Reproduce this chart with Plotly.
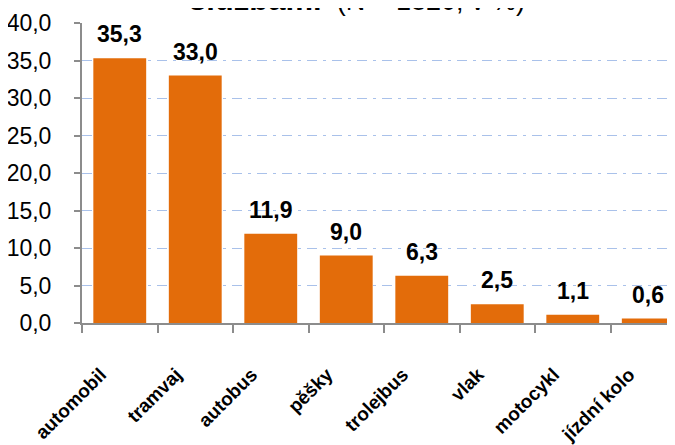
import plotly.graph_objects as go

categories = ["automobil", "tramvaj", "autobus", "pěšky", "trolejbus", "vlak", "motocykl", "jízdní kolo"]
values = [35.3, 33.0, 11.9, 9.0, 6.3, 2.5, 1.1, 0.6]
y_ticks = [0, 5, 10, 15, 20, 25, 30, 35, 40]
title_bold = "službami"
title_rest = "(N = 1820; v %)"

FONT = "Liberation Sans, Arial, sans-serif"
BAR = "#e36c0a"
AXIS = "#8c8c8c"
GRID = "#a9c1ea"

fig = go.Figure()
fig.add_trace(go.Bar(x=categories, y=values, marker=dict(color=BAR, line=dict(width=0)),
                     hoverinfo="skip"))

for c, v in zip(categories, values):
    fig.add_annotation(x=c, y=v, text="<b>" + f"{v:.1f}".replace(".", ",") + "</b>",
                       showarrow=False, yanchor="bottom", yshift=9,
                       font=dict(family=FONT, size=23, color="black"))

title_html = ('<b>' + title_bold + '</b>'
              '<span style="font-size:27px">&nbsp; ' + title_rest + '</span>')
fig.add_annotation(xref="paper", yref="paper", x=0.458, y=1.015, xanchor="center", yanchor="bottom",
                   text=title_html, showarrow=False,
                   font=dict(family=FONT, size=31, color="black"))

fig.update_layout(
    width=675, height=445,
    margin=dict(l=74, r=0, t=15, b=130),
    paper_bgcolor="white", plot_bgcolor="white",
    bargap=0.3, showlegend=False,
    separators=",.",
    font=dict(family=FONT, color="black"),
)
fig.update_yaxes(range=[0, 40], tickvals=y_ticks, tickformat=".1f", automargin=False,
                 showline=True, linecolor=AXIS, linewidth=2,
                 ticks="outside", ticklen=6, tickwidth=2, tickcolor=AXIS,
                 ticklabelstandoff=18,
                 showgrid=True, gridcolor=GRID, gridwidth=1, griddash="10px,6px,3px,6px",
                 zeroline=False,
                 tickfont=dict(family=FONT, size=23, color="black"))
fig.update_xaxes(range=[-0.5, 7.46], showline=True, linecolor=AXIS, linewidth=2, automargin=False,
                 ticks="outside", tickson="boundaries", ticklen=8, tickwidth=2, tickcolor=AXIS,
                 tickangle=-45, ticklabelstandoff=31, ticklabelshift=-19,
                 tickfont=dict(family=FONT, size=19, color="black"),
                 tickprefix="<b>", ticksuffix="</b>")

fig.write_html("out.html")
